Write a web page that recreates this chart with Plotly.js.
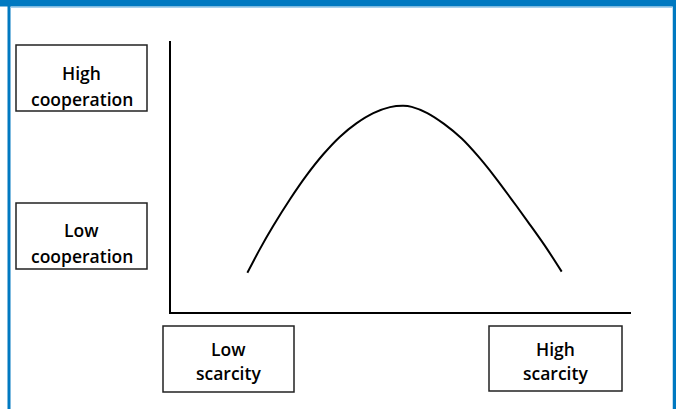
<!DOCTYPE html>
<html>
<head>
<meta charset="utf-8">
<script src="https://cdn.plot.ly/plotly-3.0.1.min.js"></script>
<style>
  html, body { margin: 0; padding: 0; background: #ffffff; }
  #chart { width: 676px; height: 409px; }
</style>
</head>
<body>
<div id="chart"></div>
<script>
// Curve: scarcity (x, 0-100) vs cooperation (y, 0-100)
var scarcity = [16.6, 19.35, 22.24, 25.87, 29.5, 33.11, 36.74, 40.37, 43.98, 47.61, 50.5, 52.33, 55.72, 59.35, 63.2, 66.8, 70.43, 74.07, 77.67, 81.3, 84.93];
var cooperation = [14.5, 23.3, 31.8, 41.6, 50.5, 58.2, 64.7, 69.7, 73.4, 75.6, 76.1, 75.7, 73.4, 69.4, 64.0, 57.4, 49.8, 41.5, 33.1, 24.4, 14.9];

// Box labels (one entry per text line)
var yLabelLine1 = ["High", "Low"];
var yLabelLine2 = ["cooperation", "cooperation"];
var xLabelLine1 = ["Low", "High"];
var xLabelLine2 = ["scarcity", "scarcity"];

var W = 676, H = 409;
var M = {l: 171, r: 45, t: 41, b: 97};
var PW = W - M.l - M.r, PH = H - M.t - M.b;
function px(x) { return (x - M.l) / PW; }
function py(y) { return (H - M.b - y) / PH; }

var blue = "#0079C1";
var shapes = [
  {type: "rect", xref: "paper", yref: "paper", x0: px(0), x1: px(W), y0: py(0), y1: py(6.5), fillcolor: blue, line: {width: 0}, layer: "above"},
  {type: "line", xref: "paper", yref: "paper", x0: px(9), x1: px(9), y0: py(0), y1: py(H + 5), line: {color: blue, width: 3}},
  {type: "line", xref: "paper", yref: "paper", x0: px(674.5), x1: px(674.5), y0: py(0), y1: py(H + 5), line: {color: blue, width: 3.5}},
  {type: "line", xref: "paper", yref: "paper", x0: px(10.5), x1: px(672.5), y0: py(7.5), y1: py(7.5), line: {color: "#A8D0EC", width: 1}}
];
// box: [x0, x1, y0, y1, baseline1, baseline2]
var boxes = [
  [16, 147, 45, 111, 79, 105],
  [16, 147, 203, 269, 236, 262],
  [163, 294, 326, 392, 355.5, 379.5],
  [489, 622, 326, 391, 355.5, 379.5]
];
boxes.forEach(function (b) {
  shapes.push({type: "rect", xref: "paper", yref: "paper", x0: px(b[0]), x1: px(b[1]), y0: py(b[2]), y1: py(b[3]),
    line: {color: "#222222", width: 1.5}, fillcolor: "rgba(0,0,0,0)"});
});
var line1 = yLabelLine1.concat(xLabelLine1);
var line2 = yLabelLine2.concat(xLabelLine2);
var FS = 17.5;
var annotations = [];
function ann(t, b, base) {
  return {text: t, xref: "paper", yref: "paper", x: px((b[0] + b[1]) / 2), y: py(base - 0.36 * FS),
    xanchor: "center", yanchor: "middle", showarrow: false, align: "center",
    font: {family: "Open Sans", size: FS, color: "#000000", weight: 600}};
}
line1.forEach(function (t, i) { annotations.push(ann(t, boxes[i], boxes[i][4])); });
line2.forEach(function (t, i) { annotations.push(ann(t, boxes[i], boxes[i][5])); });

var trace = {
  x: scarcity, y: cooperation, type: "scatter", mode: "lines",
  line: {color: "#000000", width: 2, shape: "spline", smoothing: 1.0},
  hoverinfo: "skip"
};

var layout = {
  width: W, height: H,
  margin: M,
  paper_bgcolor: "#ffffff", plot_bgcolor: "#ffffff",
  showlegend: false,
  xaxis: {range: [0, 100], showline: true, linecolor: "#000000", linewidth: 2, showgrid: false, zeroline: false, showticklabels: false, ticks: "", fixedrange: true},
  yaxis: {range: [0, 100], showline: true, linecolor: "#000000", linewidth: 2, showgrid: false, zeroline: false, showticklabels: false, ticks: "", fixedrange: true},
  shapes: shapes,
  annotations: annotations
};

Plotly.newPlot("chart", [trace], layout, {displayModeBar: false, staticPlot: true});
</script>
</body>
</html>
